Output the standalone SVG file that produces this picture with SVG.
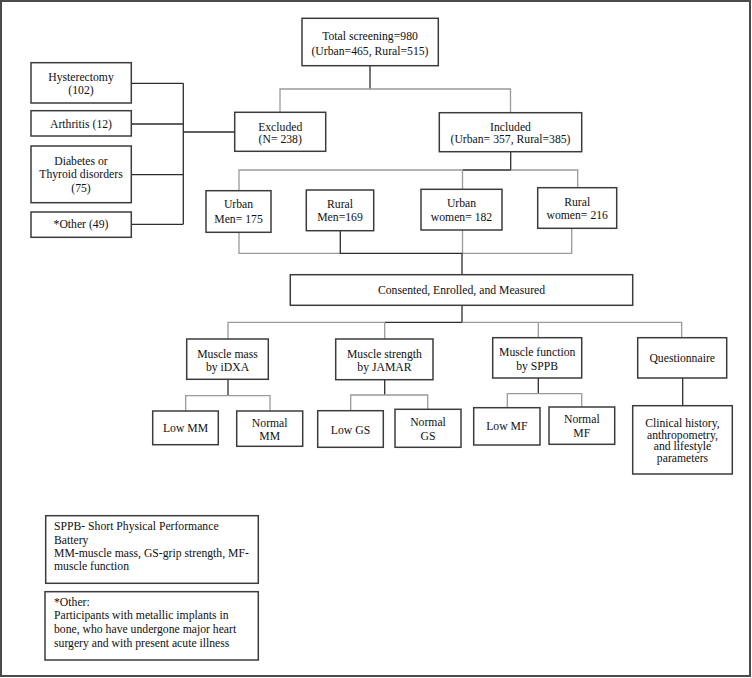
<svg xmlns="http://www.w3.org/2000/svg" width="752" height="678" viewBox="0 0 752 678">
<style>
.box{fill:#fff;stroke:#3c3c3c;stroke-width:1.5}
.t{font-family:"Liberation Serif","Times New Roman",serif;font-size:11.7px;fill:#111;text-anchor:middle}
.l{font-family:"Liberation Serif","Times New Roman",serif;font-size:11.7px;fill:#111}
.dk{stroke:#2e2e2e;stroke-width:1.3;fill:none}
.gr{stroke:#9a9a9a;stroke-width:1.3;fill:none}
</style>
<rect x="1" y="1" width="749" height="675" fill="#fff" stroke="#4a4a4a" stroke-width="2"/>
<g id="connectors">
<path class="dk" d="M370 66V89"/>
<path class="gr" d="M280 112V89H510.5V113"/>
<path class="dk" d="M131 83.3H183.3M131 124H183.3M131 174.7H183.3M131 224.3H183.3M183.3 83.3V224.3M183.3 132H235"/>
<path class="dk" d="M510.7 152V170H462.5"/>
<path class="gr" d="M462.5 170H239V191M462.5 170V189M510.7 170H577.7V188"/>
<path class="gr" d="M239 232V253.3H340.3M462.5 253.3H571.7V228M462.5 230V253.3"/>
<path class="dk" d="M340.3 231V253.3H462.5M462 253.3V275"/>
<path class="dk" d="M462 305V322.3H384.7"/>
<path class="gr" d="M384.7 322.3H228V339M384.7 322.3V339M462 322.3H681.7V338M538.3 322.3V338"/>
<path class="dk" d="M228 379V395.7M384.7 380V395M538.3 378V393.7M682.7 378V406"/>
<path class="gr" d="M185.7 411V395.7H270V411M350.7 411V395H427.7V409M507.3 408V393.7H581.7V407"/>
</g>
<g id="total"><rect class="box" x="302" y="18.3" width="136.3" height="47.4"/><text class="t" x="370" y="40">Total screening=980</text><text class="t" x="370" y="55">(Urban=465, Rural=515)</text></g>
<g id="hysterectomy"><rect class="box" x="31" y="62.7" width="100.3" height="40.3"/><text class="t" x="81" y="80.7">Hysterectomy</text><text class="t" x="81" y="94">(102)</text></g>
<g id="arthritis"><rect class="box" x="31" y="110.7" width="100.3" height="25.3"/><text class="t" x="81" y="128">Arthritis (12)</text></g>
<g id="diabetes"><rect class="box" x="31" y="146" width="100.3" height="56.7"/><text class="t" x="81" y="165">Diabetes or</text><text class="t" x="81" y="178.3">Thyroid disorders</text><text class="t" x="81" y="191.7">(75)</text></g>
<g id="other"><rect class="box" x="31" y="212" width="100.3" height="25.3"/><text class="t" x="81" y="228.3">*Other (49)</text></g>
<g id="excluded"><rect class="box" x="234.7" y="112.3" width="91" height="39"/><text class="t" x="280.2" y="130.5">Excluded</text><text class="t" x="280.2" y="142.7">(N= 238)</text></g>
<g id="included"><rect class="box" x="439.3" y="112.7" width="142.4" height="39"/><text class="t" x="510.5" y="130.5">Included</text><text class="t" x="510.5" y="143">(Urban= 357, Rural=385)</text></g>
<g id="urban-men"><rect class="box" x="206" y="190.7" width="65" height="41.6"/><text class="t" x="238.5" y="208.3">Urban</text><text class="t" x="238.5" y="222.7">Men= 175</text></g>
<g id="rural-men"><rect class="box" x="306.3" y="190" width="67.4" height="40.7"/><text class="t" x="340" y="207.7">Rural</text><text class="t" x="340" y="221">Men=169</text></g>
<g id="urban-women"><rect class="box" x="421" y="189.3" width="81" height="40.7"/><text class="t" x="461.5" y="206.7">Urban</text><text class="t" x="461.5" y="221">women= 182</text></g>
<g id="rural-women"><rect class="box" x="537.7" y="187.7" width="79" height="40.6"/><text class="t" x="577.2" y="205.7">Rural</text><text class="t" x="577.2" y="219.3">women= 216</text></g>
<g id="consented"><rect class="box" x="290.3" y="274.7" width="342.4" height="30.6"/><text class="t" x="461.5" y="294">Consented, Enrolled, and Measured</text></g>
<g id="muscle-mass"><rect class="box" x="186.7" y="339" width="81.6" height="40.3"/><text class="t" x="227.5" y="357.7">Muscle mass</text><text class="t" x="227.5" y="371">by iDXA</text></g>
<g id="muscle-strength"><rect class="box" x="335.7" y="339" width="97.3" height="40.7"/><text class="t" x="384.4" y="357.7">Muscle strength</text><text class="t" x="384.4" y="371">by JAMAR</text></g>
<g id="muscle-function"><rect class="box" x="492.7" y="337.7" width="89" height="40.3"/><text class="t" x="537.2" y="355.7">Muscle function</text><text class="t" x="537.2" y="370">by SPPB</text></g>
<g id="questionnaire"><rect class="box" x="637.7" y="337.7" width="89" height="40.3"/><text class="t" x="682.2" y="361.7">Questionnaire</text></g>
<g id="low-mm"><rect class="box" x="152.7" y="411" width="65.6" height="33.7"/><text class="t" x="185.5" y="432.3">Low MM</text></g>
<g id="normal-mm"><rect class="box" x="236.7" y="411" width="66" height="35.3"/><text class="t" x="269.7" y="426.7">Normal</text><text class="t" x="269.7" y="440">MM</text></g>
<g id="low-gs"><rect class="box" x="317.7" y="410.7" width="65.6" height="36.6"/><text class="t" x="350.5" y="433.7">Low GS</text></g>
<g id="normal-gs"><rect class="box" x="395" y="409.3" width="66" height="38"/><text class="t" x="428" y="426.3">Normal</text><text class="t" x="428" y="439.7">GS</text></g>
<g id="low-mf"><rect class="box" x="473.7" y="407.7" width="66.3" height="37.3"/><text class="t" x="506.8" y="430">Low MF</text></g>
<g id="normal-mf"><rect class="box" x="549" y="407" width="65.7" height="37.3"/><text class="t" x="581.8" y="423.3">Normal</text><text class="t" x="581.8" y="436.7">MF</text></g>
<g id="clinical"><rect class="box" x="632.7" y="405.7" width="99.6" height="68.3"/><text class="t" x="682.5" y="426.7">Clinical history,</text><text class="t" x="682.5" y="438.5">anthropometry,</text><text class="t" x="682.5" y="450.3">and lifestyle</text><text class="t" x="682.5" y="462.3">parameters</text></g>
<g id="legend-abbrev"><rect class="box" x="45.7" y="515.7" width="212.6" height="67.6"/><text class="l" x="54" y="530">SPPB-  Short  Physical  Performance</text><text class="l" x="54" y="543.5">Battery</text><text class="l" x="54" y="556.7">MM-muscle mass, GS-grip  strength,  MF-</text><text class="l" x="54" y="570">muscle function</text></g>
<g id="legend-other"><rect class="box" x="45" y="591.7" width="213.3" height="68.3"/><text class="l" x="54" y="606">*Other:</text><text class="l" x="54" y="619.3">Participants with metallic implants in</text><text class="l" x="54" y="632.7">bone, who have undergone major heart</text><text class="l" x="54" y="646.5">surgery and with present acute illness</text></g>
</svg>
